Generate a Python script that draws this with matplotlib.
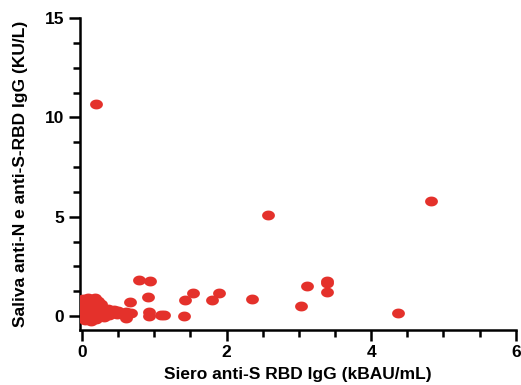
import matplotlib.pyplot as plt
import matplotlib as mpl
import numpy as np
from matplotlib.path import Path
from matplotlib.ticker import MultipleLocator

plt.rcParams['font.family'] = ['Liberation Sans', 'DejaVu Sans']
plt.rcParams['font.weight'] = 'bold'

# serum anti-S RBD IgG (kBAU/mL) vs saliva anti-N + anti-S-RBD IgG (KU/L)
siero = [0.19, 2.58, 4.83, 4.37, 3.39, 3.39, 3.39, 3.11, 3.03, 2.35,
         1.89, 1.80, 1.54, 1.43, 1.41, 1.14, 0.92, 0.93, 0.93, 0.79, 0.94,
         0.67, 0.61, 0.61, 0.68, 0.44, 0.40, 1.09,
         0.02, 0.08, 0.18, 0.22, 0.05, 0.12, 0.00, 0.06, 0.15, 0.25,
         0.30, 0.02, 0.10, 0.20, 0.28, 0.35, 0.42, 0.48, 0.00, 0.08,
         0.15, 0.22, 0.30, 0.38, 0.04, 0.12, 0.20, 0.10, 0.18, 0.03,
         0.25, 0.45, 0.55, 0.50, 0.16, 0.07, 0.33, 0.13, 0.27, 0.36]
saliva = [10.7, 5.08, 5.78, 0.17, 1.76, 1.64, 1.22, 1.51, 0.52, 0.85,
          1.17, 0.80, 1.14, 0.80, 0.02, 0.05, 0.97, 0.19, 0.00, 1.80, 1.75,
          0.72, 0.22, -0.10, 0.15, 0.15, 0.25, 0.05,
          0.85, 0.90, 0.92, 0.75, 0.60, 0.55, 0.40, 0.35, 0.40, 0.45,
          0.30, 0.20, 0.15, 0.20, 0.10, 0.15, 0.20, 0.12, 0.00, 0.05,
          -0.05, 0.00, -0.05, 0.05, -0.20, -0.25, -0.15, 0.30, 0.65, 0.70,
          0.25, 0.30, 0.10, 0.25, 0.05, -0.08, 0.22, 0.50, 0.60, 0.35]

t = np.linspace(0, 2 * np.pi, 60)
ellipse = Path(np.column_stack([1.3 * np.cos(t), np.sin(t)]), closed=True)

fig = plt.figure(figsize=(5.21, 3.85), dpi=100)
ax = fig.add_axes([0.153, 0.143, 0.837, 0.81])

ax.scatter(siero, saliva, s=85, marker=ellipse, color='#e4312b', linewidths=0, zorder=3)

ax.set_xlim(-0.03, 6)
ax.set_ylim(-0.7, 15)
ax.set_xticks([0, 2, 4, 6])
ax.set_yticks([0, 5, 10, 15])
ax.xaxis.set_minor_locator(MultipleLocator(0.5))
ax.yaxis.set_minor_locator(MultipleLocator(1.25))

for s in ['top', 'right']:
    ax.spines[s].set_visible(False)
for s in ['left', 'bottom']:
    ax.spines[s].set_linewidth(1.8)

ax.tick_params(which='major', length=8, width=1.8, labelsize=12.5, pad=3)
ax.tick_params(which='minor', length=5, width=1.8)
for lab in ax.get_xticklabels() + ax.get_yticklabels():
    lab.set_fontweight('bold')

ax.set_xlabel('Siero anti-S RBD IgG (kBAU/mL)', fontsize=12.5, fontweight='bold', labelpad=5)
ax.set_ylabel('Saliva anti-N e anti-S-RBD IgG (KU/L)', fontsize=12.5, fontweight='bold', labelpad=12)

fig.savefig('out.png', dpi=100)
